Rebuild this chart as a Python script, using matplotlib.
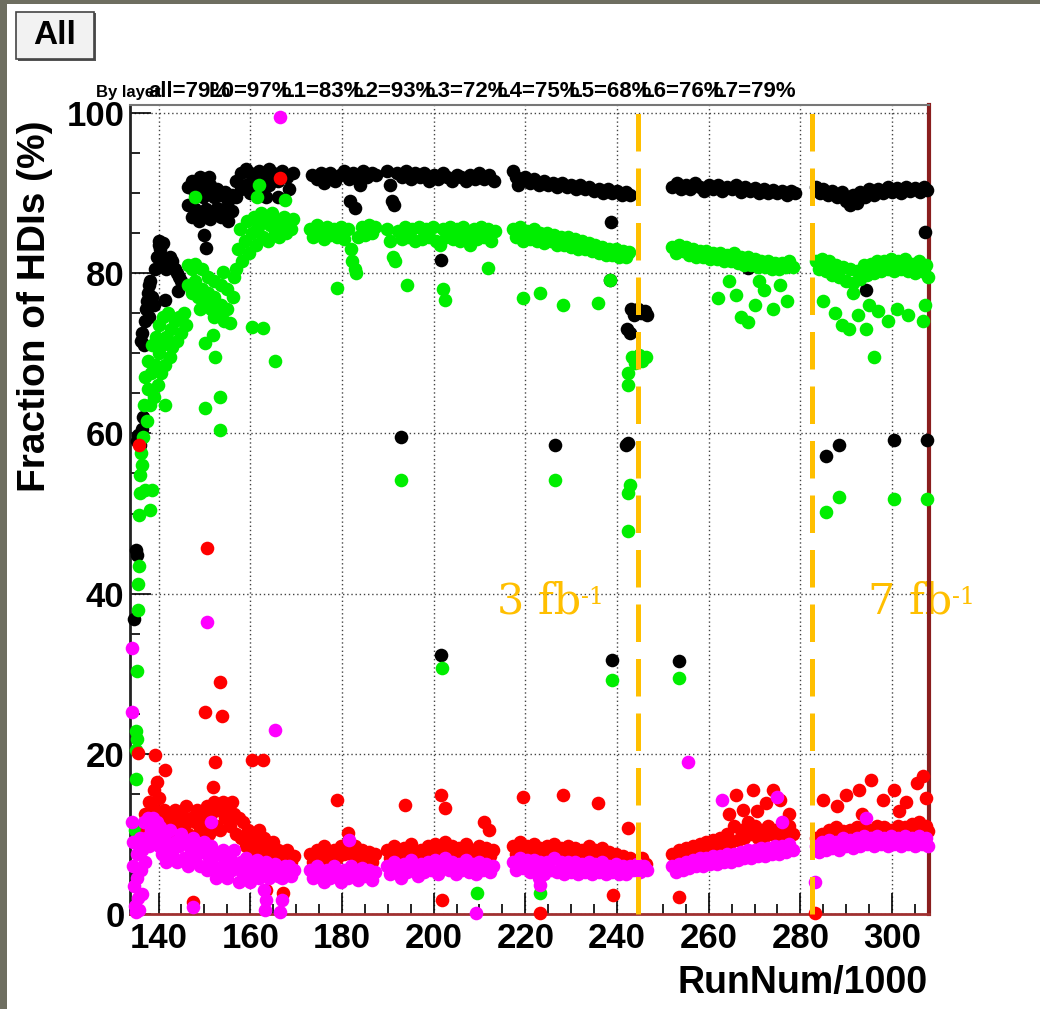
import numpy as np
import matplotlib
matplotlib.use("Agg")
import matplotlib.pyplot as plt
from matplotlib.patches import Rectangle

plt.rcParams['font.family'] = ['Liberation Sans', 'DejaVu Sans']

# ---- data: (RunNum/1000, fraction of HDIs in %) ----
black_pts = [
    (134.6, 36.8), (135.0, 45.5), (135.2, 44.8), (135.3, 59.0), (135.6, 59.8), (136.0, 58.5),
    (136.3, 60.5), (136.6, 62.0), (136.2, 71.5), (136.5, 72.5), (136.8, 71.0), (137.0, 74.0),
    (137.3, 75.5), (137.6, 77.5), (137.9, 78.5), (138.2, 79.0), (137.5, 76.5), (138.5, 77.0),
    (138.0, 74.5), (139.0, 76.0), (139.2, 80.5), (139.6, 82.0), (140.0, 83.5), (140.4, 83.0),
    (140.8, 82.0), (141.2, 81.5), (141.6, 80.5), (142.0, 81.0), (142.5, 82.0), (143.0, 81.5),
    (143.5, 80.5), (144.0, 80.0), (144.5, 79.5), (145.0, 79.0), (144.2, 77.8), (141.5, 76.6),
    (140.0, 84.0), (141.0, 83.8),
    (146.5, 90.8), (146.5, 88.5), (147.2, 91.5), (147.2, 87.0), (148.0, 90.0), (148.0, 88.0),
    (148.8, 91.0), (148.8, 86.5), (149.6, 89.5), (149.6, 87.5), (150.4, 90.5), (150.4, 88.0),
    (151.2, 91.0), (151.2, 86.8), (152.0, 89.5), (152.0, 87.5), (152.8, 90.5), (152.8, 88.2),
    (153.6, 89.8), (153.6, 87.0), (154.4, 90.2), (154.4, 88.0), (155.2, 89.0), (155.2, 86.5),
    (156.0, 89.8), (156.0, 87.8), (150.0, 84.8), (150.3, 83.2), (151.0, 92.0), (149.0, 92.0),
    (157.0, 91.5), (157.0, 89.5), (158.0, 92.5), (158.0, 90.5), (159.0, 93.0), (159.0, 91.0),
    (160.0, 92.5), (160.0, 90.0), (161.0, 92.0), (162.0, 92.8), (162.0, 90.5), (163.0, 92.0),
    (164.0, 93.0), (164.0, 91.0), (165.0, 92.5), (166.0, 91.5), (166.0, 89.5), (167.0, 92.8),
    (168.0, 92.0), (168.5, 90.5), (169.3, 92.5), (163.5, 89.5),
    (173.5, 92.3), (174.5, 91.8), (175.5, 92.5), (176.5, 92.0), (177.5, 92.5), (178.5, 91.5),
    (179.5, 92.3), (180.5, 92.8), (181.5, 91.8), (182.5, 92.5), (183.5, 92.0), (184.5, 92.8),
    (185.5, 92.0), (186.5, 92.5), (187.5, 92.2), (181.8, 89.0), (182.8, 88.2), (176.0, 91.2),
    (184.0, 91.0),
    (189.8, 92.8), (190.5, 91.0), (191.0, 89.0), (191.3, 88.5), (192.0, 92.5), (193.0, 92.0),
    (194.0, 92.8), (195.0, 91.8), (196.0, 92.5), (197.0, 92.0), (198.0, 92.5), (199.0, 91.5),
    (200.0, 92.3), (201.0, 91.8), (202.0, 92.5), (203.0, 92.0), (204.0, 91.5), (205.0, 92.3),
    (206.0, 92.0), (207.0, 91.5), (208.0, 92.2), (209.0, 91.8), (210.0, 92.5), (211.0, 91.8),
    (212.0, 92.2), (213.2, 91.5), (192.8, 59.6), (201.6, 81.7), (201.6, 32.3),
    (217.3, 92.8), (218.0, 92.0), (219.0, 91.5), (220.0, 92.0), (221.0, 91.3), (222.0, 91.8),
    (223.0, 91.0), (224.0, 91.5), (225.0, 91.0), (226.0, 91.3), (227.0, 90.8), (228.0, 91.2),
    (229.0, 90.8), (230.0, 91.0), (231.0, 90.5), (232.0, 91.0), (233.0, 90.5), (234.0, 90.8),
    (235.0, 90.3), (236.0, 90.5), (237.0, 90.0), (238.0, 90.5), (239.0, 90.0), (240.0, 90.3),
    (241.0, 89.8), (242.0, 90.2), (242.8, 89.8), (218.5, 91.0), (226.5, 58.5), (239.0, 31.7),
    (238.5, 79.1), (238.8, 86.4), (242.2, 73.0), (242.5, 58.8), (242.0, 58.6),
    (243.0, 75.5), (243.8, 74.8), (244.5, 75.5), (245.3, 75.0), (246.0, 75.3), (246.5, 74.8),
    (242.8, 72.5),
    (252.0, 90.8), (253.0, 91.2), (254.0, 90.5), (255.0, 91.0), (256.0, 90.5), (257.0, 91.2),
    (258.0, 90.8), (259.0, 90.3), (260.0, 91.0), (261.0, 90.5), (262.0, 91.0), (263.0, 90.3),
    (264.0, 90.8), (265.0, 90.5), (266.0, 91.0), (267.0, 90.2), (268.0, 90.8), (269.0, 90.3),
    (270.0, 90.6), (271.0, 90.0), (272.0, 90.5), (273.0, 90.0), (274.0, 90.4), (275.0, 90.0),
    (276.0, 90.3), (277.0, 89.8), (278.0, 90.3), (278.8, 90.0), (253.5, 31.6), (268.5, 80.6),
    (283.5, 90.8), (284.2, 90.0), (285.0, 90.5), (286.0, 89.8), (287.0, 90.3), (288.0, 89.5),
    (289.0, 90.2), (290.0, 89.0), (290.8, 88.5), (291.5, 89.8), (292.3, 88.8), (293.0, 90.2),
    (294.0, 89.5), (295.0, 90.5), (296.0, 89.8), (297.0, 90.5), (298.0, 90.0), (299.0, 90.8),
    (300.0, 90.2), (301.0, 90.6), (302.0, 90.0), (303.0, 90.8), (304.0, 90.3), (305.0, 90.6),
    (306.0, 90.2), (307.0, 90.8), (307.6, 90.4), (285.6, 57.2), (288.5, 58.6), (300.4, 59.2),
    (307.6, 59.2), (294.3, 77.9), (307.2, 85.1),
]

green_pts = [
    (134.8, 10.5), (135.0, 16.8), (135.0, 20.5), (135.2, 21.8), (135.0, 22.8), (135.3, 30.3),
    (135.5, 38.0), (135.5, 41.2), (135.7, 43.5), (135.7, 49.8), (136.0, 52.5), (136.0, 54.8),
    (136.2, 57.5), (136.5, 56.0),
    (136.6, 59.5), (136.8, 63.5), (137.0, 67.0), (137.4, 61.5), (137.6, 65.5), (137.8, 69.0),
    (138.2, 63.5), (138.4, 67.5), (138.6, 71.0), (139.0, 64.5), (139.2, 68.5), (139.4, 72.0),
    (139.8, 66.0), (140.0, 70.0), (140.2, 73.5), (140.6, 67.5), (140.8, 71.0), (141.0, 74.5),
    (141.5, 68.5), (141.7, 72.0), (142.0, 75.0), (142.5, 69.5), (142.7, 73.0), (143.0, 70.8),
    (143.5, 74.0), (144.0, 71.5), (144.5, 74.5), (145.0, 72.5), (145.5, 75.0), (146.0, 73.5),
    (137.0, 52.9), (138.5, 52.9), (138.2, 50.4), (141.4, 63.5), (150.1, 63.2), (153.4, 60.4),
    (153.4, 64.5), (150.1, 71.3), (151.9, 72.3), (152.3, 69.5),
    (146.5, 81.0), (146.5, 78.5), (147.3, 80.5), (147.3, 77.5), (148.0, 81.2), (148.0, 79.0),
    (148.7, 77.0), (149.4, 80.5), (149.4, 78.0), (150.1, 76.0), (150.8, 79.5), (150.8, 77.5),
    (151.5, 75.5), (152.2, 79.0), (152.2, 77.0), (152.9, 75.0), (153.6, 78.5), (153.6, 76.0),
    (154.3, 74.0), (155.0, 78.0), (155.0, 75.5), (155.7, 73.8), (156.2, 77.0), (156.5, 79.5),
    (149.0, 75.5), (152.0, 74.5), (154.0, 80.2),
    (156.8, 80.5), (157.3, 83.0), (157.8, 85.5), (158.3, 81.5), (158.8, 84.0), (159.3, 86.5),
    (159.8, 82.5), (160.3, 85.0), (160.8, 87.0), (161.3, 83.5), (161.8, 85.8), (162.3, 87.5),
    (162.8, 84.5), (163.3, 86.5), (163.8, 84.0), (164.3, 86.0), (164.8, 87.5), (165.3, 85.0),
    (165.8, 86.5), (166.3, 84.5), (166.8, 86.0), (167.3, 87.0), (167.8, 85.0), (168.3, 86.5),
    (168.8, 85.5), (169.3, 86.8), (161.5, 89.5), (162.0, 91.0), (147.9, 89.5), (167.6, 89.1),
    (160.4, 73.3), (162.8, 73.2), (165.4, 69.0),
    (173.0, 85.5), (173.8, 84.5), (174.5, 86.0), (175.3, 85.0), (176.0, 84.3), (176.8, 85.8),
    (177.5, 84.8), (178.3, 85.5), (179.0, 84.5), (179.8, 85.8), (180.5, 84.3), (181.3, 85.5),
    (182.0, 83.0), (182.3, 81.5), (182.8, 80.5), (183.5, 84.5), (184.3, 85.8), (185.0, 84.8),
    (185.8, 86.0), (186.5, 85.0), (187.3, 85.8), (178.9, 78.2), (183.0, 80.0),
    (189.8, 85.5), (190.5, 84.0), (191.2, 82.0), (191.5, 81.5), (192.2, 85.3), (193.0, 84.3),
    (193.8, 85.8), (194.5, 84.5), (195.3, 85.5), (196.0, 84.0), (196.8, 85.8), (197.5, 84.3),
    (198.3, 85.5), (199.0, 84.5), (199.8, 85.8), (200.5, 84.0), (201.3, 83.5), (202.0, 85.5),
    (202.8, 84.5), (203.5, 85.8), (204.3, 84.3), (205.0, 85.5), (205.8, 84.0), (206.5, 85.8),
    (207.3, 84.8), (208.0, 83.5), (208.8, 85.5), (209.5, 84.3), (210.3, 85.8), (211.0, 84.5),
    (211.8, 85.5), (212.5, 84.0), (213.3, 85.3), (194.2, 78.5), (202.5, 76.7), (202.0, 78.0),
    (211.8, 80.6), (192.8, 54.2), (201.8, 30.7), (209.4, 2.6),
    (217.3, 85.5), (218.0, 84.5), (218.8, 85.8), (219.5, 84.0), (220.3, 85.3), (221.0, 84.3),
    (221.8, 85.5), (222.5, 84.0), (223.3, 85.0), (224.0, 83.8), (224.8, 85.0), (225.5, 84.0),
    (226.3, 84.8), (227.0, 83.5), (227.8, 84.5), (228.5, 83.5), (229.3, 84.5), (230.0, 83.3),
    (230.8, 84.3), (231.5, 83.0), (232.3, 84.0), (233.0, 83.0), (233.8, 83.8), (234.5, 82.8),
    (235.3, 83.5), (236.0, 82.5), (236.8, 83.3), (237.5, 82.3), (238.3, 83.0), (239.0, 82.3),
    (239.8, 83.0), (240.5, 82.0), (241.3, 82.8), (242.0, 82.0), (242.7, 82.7), (219.5, 76.9),
    (223.2, 77.5), (228.2, 76.0), (235.9, 76.3), (238.5, 79.1), (226.5, 54.2), (239.0, 29.2),
    (223.2, 2.6), (242.3, 47.8), (242.5, 52.5), (242.8, 53.5), (242.3, 66.0), (242.5, 67.5),
    (243.2, 69.5), (244.0, 68.8), (244.8, 69.8), (245.5, 69.0), (246.3, 69.5),
    (252.0, 83.3), (252.8, 82.5), (253.5, 83.5), (254.3, 82.8), (255.0, 83.3), (255.8, 82.3),
    (256.5, 83.0), (257.3, 82.0), (258.0, 82.8), (258.8, 82.0), (259.5, 82.8), (260.3, 81.8),
    (261.0, 82.5), (261.8, 81.8), (262.5, 82.5), (263.3, 81.5), (264.0, 82.3), (264.8, 81.5),
    (265.5, 82.5), (266.3, 81.3), (267.0, 82.0), (267.8, 81.0), (268.5, 82.0), (269.3, 81.0),
    (270.0, 81.8), (270.8, 80.8), (271.5, 81.5), (272.3, 80.8), (273.0, 81.5), (273.8, 80.5),
    (274.5, 81.3), (275.3, 80.5), (276.0, 81.3), (276.8, 80.8), (277.5, 81.5), (278.3, 80.8),
    (262.0, 76.9), (266.0, 77.3), (267.0, 74.5), (268.5, 73.9), (270.0, 76.0), (272.0, 77.9),
    (274.0, 75.5), (275.5, 78.5), (277.0, 76.5), (253.5, 29.5), (264.5, 79.0), (271.0, 79.0),
    (283.3, 81.5), (284.0, 80.5), (284.8, 81.8), (285.5, 80.3), (286.3, 81.5), (287.0, 79.8),
    (287.8, 81.0), (288.5, 79.5), (289.3, 80.8), (290.0, 79.0), (290.8, 80.5), (291.5, 78.8),
    (292.3, 80.3), (293.0, 79.3), (293.8, 81.0), (294.5, 79.8), (295.3, 81.2), (296.0, 80.0),
    (296.8, 81.5), (297.5, 80.3), (298.3, 81.5), (299.0, 80.5), (299.8, 81.8), (300.5, 80.3),
    (301.3, 81.5), (302.0, 80.5), (302.8, 81.8), (303.5, 80.3), (304.3, 81.2), (305.0, 80.0),
    (305.8, 81.5), (306.5, 80.3), (307.3, 81.0), (307.8, 79.5), (285.0, 76.5), (287.5, 75.0),
    (289.0, 73.5), (290.5, 73.0), (292.5, 74.8), (294.3, 73.0), (295.0, 76.0), (297.0, 75.3),
    (299.0, 74.0), (301.0, 75.5), (303.5, 74.8), (306.8, 74.0), (307.2, 76.0), (291.5, 77.5),
    (285.6, 50.2), (288.4, 52.0), (300.4, 51.8), (307.6, 51.8), (296.0, 69.5),
]

red_pts = [
    (135.8, 58.6),
    (136.5, 9.0), (137.0, 12.5), (137.5, 10.5), (138.0, 14.0), (138.5, 11.5), (139.0, 15.5),
    (139.3, 13.0), (139.6, 16.5), (140.0, 14.5), (140.4, 12.0), (140.8, 10.0), (141.2, 13.0),
    (141.6, 11.0), (142.0, 9.0), (142.5, 12.0), (143.0, 10.5), (143.5, 13.0), (144.0, 11.5),
    (144.5, 9.5), (145.0, 12.5), (145.5, 11.0), (146.0, 13.5), (146.5, 10.0), (147.0, 12.0),
    (147.5, 9.5), (148.0, 11.5), (148.5, 13.0), (149.0, 10.5), (149.5, 12.5), (150.0, 11.0),
    (150.5, 13.5), (151.0, 10.0), (151.5, 12.5), (152.0, 14.0), (152.5, 11.0), (153.0, 13.0),
    (153.5, 10.5), (154.0, 14.0), (154.5, 12.0), (155.0, 13.5), (155.5, 11.0), (156.0, 14.0),
    (156.5, 12.5), (157.0, 10.0), (157.5, 12.0), (158.0, 9.5), (158.5, 11.5), (159.0, 8.5),
    (159.5, 10.5), (160.0, 8.0), (160.5, 9.5), (161.0, 7.5), (161.5, 9.0), (162.0, 10.5),
    (162.5, 8.0), (163.0, 9.5), (163.5, 7.0), (164.0, 8.5), (164.5, 7.5), (165.0, 9.0),
    (165.5, 7.0), (166.0, 8.0), (166.5, 6.5), (167.0, 7.5), (167.5, 6.8), (168.0, 8.0),
    (168.5, 7.0), (169.0, 6.5), (169.5, 7.3),
    (139.3, 19.9), (135.5, 20.1), (141.4, 18.0), (150.1, 25.2), (153.8, 24.7), (152.3, 19.0),
    (151.9, 15.9), (160.4, 19.2), (162.8, 19.2), (150.6, 45.7), (153.4, 29.0), (166.5, 91.9),
    (147.5, 1.5), (167.2, 2.6), (163.5, 3.0),
    (173.0, 7.5), (173.8, 6.5), (174.5, 8.0), (175.3, 7.0), (176.0, 8.5), (176.8, 7.3),
    (177.5, 6.5), (178.3, 8.0), (179.0, 7.0), (179.8, 8.5), (180.5, 7.5), (181.3, 9.0),
    (182.0, 7.5), (182.8, 8.5), (183.5, 7.0), (184.3, 8.0), (185.0, 6.8), (185.8, 7.8),
    (186.5, 6.5), (187.3, 7.5), (178.9, 14.2), (181.3, 10.1),
    (189.8, 8.0), (190.5, 7.0), (191.3, 8.5), (192.0, 7.5), (192.8, 6.5), (193.5, 8.3),
    (194.3, 7.3), (195.0, 8.8), (195.8, 7.5), (196.5, 6.8), (197.3, 8.0), (198.0, 7.0),
    (198.8, 8.5), (199.5, 7.5), (200.3, 8.8), (201.0, 7.3), (201.8, 8.0), (202.5, 9.0),
    (203.3, 7.5), (204.0, 8.5), (204.8, 7.0), (205.5, 8.3), (206.3, 7.5), (207.0, 8.8),
    (207.8, 7.3), (208.5, 8.0), (209.3, 7.0), (210.0, 8.5), (210.8, 7.5), (211.5, 8.3),
    (212.3, 7.3), (213.0, 8.0), (193.8, 13.6), (201.6, 14.9), (202.5, 13.2), (211.0, 11.5),
    (212.0, 10.5), (201.8, 1.8),
    (217.3, 8.5), (218.0, 7.5), (218.8, 9.0), (219.5, 7.8), (220.3, 8.5), (221.0, 7.3),
    (221.8, 8.8), (222.5, 7.5), (223.3, 8.3), (224.0, 7.0), (224.8, 8.5), (225.5, 7.5),
    (226.3, 8.8), (227.0, 7.3), (227.8, 8.3), (228.5, 7.0), (229.3, 8.5), (230.0, 7.3),
    (230.8, 8.3), (231.5, 7.0), (232.3, 8.0), (233.0, 7.3), (233.8, 8.5), (234.5, 7.0),
    (235.3, 8.0), (236.0, 7.0), (236.8, 8.3), (237.5, 7.0), (238.3, 7.8), (239.0, 6.8),
    (239.8, 7.5), (240.5, 6.5), (241.3, 7.3), (242.0, 6.5), (242.8, 7.0), (219.5, 14.6),
    (228.2, 14.9), (235.9, 13.9), (223.2, 0.1), (239.1, 2.4), (242.5, 10.7), (241.5, 5.5),
    (244.0, 6.5), (245.5, 7.0), (246.3, 6.3),
    (252.0, 7.5), (252.8, 6.8), (253.5, 8.0), (254.3, 7.0), (255.0, 8.3), (255.8, 7.3),
    (256.5, 8.5), (257.3, 7.5), (258.0, 8.8), (258.8, 7.8), (259.5, 9.0), (260.3, 8.0),
    (261.0, 9.3), (261.8, 8.3), (262.5, 9.5), (263.3, 8.5), (264.0, 10.0), (264.8, 9.0),
    (265.5, 11.0), (266.3, 9.3), (267.0, 10.5), (267.8, 9.5), (268.5, 11.5), (269.3, 10.0),
    (270.0, 11.0), (270.8, 9.5), (271.5, 10.5), (272.3, 9.8), (273.0, 11.0), (273.8, 10.0),
    (274.5, 10.5), (275.3, 9.8), (276.0, 10.8), (276.8, 10.0), (277.5, 11.0), (278.3, 10.0),
    (264.5, 12.5), (266.0, 14.9), (267.5, 13.0), (269.6, 15.5), (270.5, 12.8), (272.4, 13.9),
    (274.0, 15.5), (275.5, 14.2), (277.5, 12.5), (253.5, 2.1),
    (283.3, 9.5), (284.0, 8.5), (284.8, 10.0), (285.5, 9.0), (286.3, 10.5), (287.0, 9.3),
    (287.8, 10.8), (288.5, 9.5), (289.3, 10.3), (290.0, 9.0), (290.8, 10.5), (291.5, 9.5),
    (292.3, 10.8), (293.0, 9.8), (293.8, 11.0), (294.5, 9.5), (295.3, 10.5), (296.0, 9.8),
    (296.8, 11.0), (297.5, 10.0), (298.3, 10.8), (299.0, 9.5), (299.8, 10.5), (300.5, 9.8),
    (301.3, 11.0), (302.0, 10.0), (302.8, 10.8), (303.5, 9.8), (304.3, 11.2), (305.0, 10.3),
    (305.8, 11.5), (306.5, 10.0), (307.3, 11.0), (307.8, 10.3), (285.0, 14.2), (288.0, 13.5),
    (290.0, 14.8), (292.8, 15.5), (295.5, 16.7), (298.0, 14.2), (300.5, 15.5), (303.0, 14.0),
    (305.5, 16.3), (306.8, 17.2), (307.5, 14.5), (283.2, 0.1), (293.5, 12.5), (301.5, 12.8),
]

magenta_pts = [
    (134.2, 33.2), (134.2, 25.2), (134.3, 11.5), (134.5, 9.0), (134.5, 6.0), (134.7, 3.5),
    (134.8, 1.0), (135.0, 0.3), (135.2, 7.5), (135.3, 4.5), (135.5, 2.0), (135.7, 0.5),
    (135.9, 9.5), (136.1, 5.5), (136.3, 2.5), (136.5, 8.0), (136.8, 11.5), (137.0, 6.5),
    (137.2, 9.5), (137.6, 12.0), (138.0, 8.5), (138.4, 10.5),
    (138.8, 12.0), (139.2, 9.5), (139.6, 11.5), (140.0, 8.5), (140.4, 10.8), (140.8, 7.5),
    (141.2, 9.5), (141.6, 6.5), (142.0, 8.8), (142.5, 10.5), (143.0, 7.5), (143.5, 9.0),
    (144.0, 6.5), (144.5, 8.5), (145.0, 10.0), (145.5, 7.0), (146.0, 9.0), (146.5, 6.0),
    (147.0, 8.0), (147.5, 9.5), (148.0, 7.0), (148.5, 8.5), (149.0, 6.0), (149.5, 7.8),
    (150.0, 9.0), (150.5, 5.5), (151.0, 7.0), (151.5, 8.5), (152.0, 6.0), (152.5, 4.5),
    (153.0, 7.5), (153.5, 5.5), (154.0, 8.0), (154.5, 6.5), (155.0, 4.5), (155.5, 7.0),
    (156.0, 5.5), (156.5, 8.0), (157.0, 6.0), (157.5, 4.0), (158.0, 6.5), (158.5, 5.0),
    (159.0, 7.0), (159.5, 5.5), (160.0, 4.0), (160.5, 6.0), (161.0, 5.0), (161.5, 6.8),
    (162.0, 4.5), (162.5, 6.0), (163.0, 5.0), (163.5, 6.5), (164.0, 4.5), (164.5, 5.8),
    (165.0, 5.0), (165.5, 6.3), (166.0, 4.8), (166.5, 5.8), (167.0, 4.5), (167.5, 6.0),
    (168.0, 5.0), (168.5, 6.0), (169.0, 4.8), (169.5, 5.5), (151.5, 11.5), (166.5, 99.5),
    (150.6, 36.5), (165.4, 23.0), (147.5, 0.9), (163.2, 0.5), (163.4, 1.8), (166.5, 0.3),
    (167.0, 1.7), (163.0, 3.0),
    (173.0, 5.5), (173.8, 4.5), (174.5, 6.0), (175.3, 5.0), (176.0, 4.0), (176.8, 5.5),
    (177.5, 4.5), (178.3, 6.0), (179.0, 5.0), (179.8, 4.0), (180.5, 5.5), (181.3, 4.5),
    (182.0, 6.0), (182.8, 5.0), (183.5, 4.3), (184.3, 5.8), (185.0, 4.8), (185.8, 5.5),
    (186.5, 4.3), (187.3, 5.3), (181.5, 9.2),
    (189.8, 6.0), (190.5, 5.0), (191.3, 6.5), (192.0, 5.5), (192.8, 4.5), (193.5, 6.3),
    (194.3, 5.3), (195.0, 6.8), (195.8, 5.5), (196.5, 4.8), (197.3, 6.3), (198.0, 5.3),
    (198.8, 6.5), (199.5, 5.5), (200.3, 6.8), (201.0, 5.0), (201.8, 6.3), (202.5, 7.0),
    (203.3, 5.5), (204.0, 6.5), (204.8, 5.0), (205.5, 6.3), (206.3, 5.5), (207.0, 6.8),
    (207.8, 5.3), (208.5, 6.3), (209.3, 5.0), (210.0, 6.5), (210.8, 5.5), (211.5, 6.3),
    (212.3, 5.3), (213.0, 6.0), (209.3, 0.1),
    (217.3, 6.5), (218.0, 5.5), (218.8, 7.0), (219.5, 5.8), (220.3, 6.8), (221.0, 5.3),
    (221.8, 6.8), (222.5, 5.5), (223.3, 6.5), (224.0, 5.0), (224.8, 6.5), (225.5, 5.5),
    (226.3, 7.0), (227.0, 5.3), (227.8, 6.5), (228.5, 5.0), (229.3, 6.5), (230.0, 5.3),
    (230.8, 6.5), (231.5, 5.0), (232.3, 6.3), (233.0, 5.3), (233.8, 6.5), (234.5, 5.0),
    (235.3, 6.3), (236.0, 5.3), (236.8, 6.5), (237.5, 5.0), (238.3, 6.0), (239.0, 5.3),
    (239.8, 6.3), (240.5, 5.0), (241.3, 6.0), (242.0, 5.0), (242.8, 6.0), (243.5, 5.5),
    (244.3, 6.3), (245.0, 5.3), (245.8, 6.0), (246.5, 5.5), (223.2, 3.6), (223.0, 4.5),
    (252.0, 6.0), (252.8, 5.3), (253.5, 6.3), (254.3, 5.5), (255.0, 6.5), (255.8, 5.8),
    (256.5, 6.8), (257.3, 6.0), (258.0, 7.0), (258.8, 6.0), (259.5, 7.0), (260.3, 6.3),
    (261.0, 7.3), (261.8, 6.3), (262.5, 7.3), (263.3, 6.5), (264.0, 7.5), (264.8, 6.5),
    (265.5, 7.5), (266.3, 6.8), (267.0, 7.8), (267.8, 7.0), (268.5, 8.0), (269.3, 7.0),
    (270.0, 8.0), (270.8, 7.3), (271.5, 8.3), (272.3, 7.3), (273.0, 8.3), (273.8, 7.5),
    (274.5, 8.5), (275.3, 7.5), (276.0, 8.5), (276.8, 7.8), (277.5, 8.8), (278.3, 8.0),
    (255.5, 19.0), (263.0, 14.2), (275.0, 14.6), (276.0, 11.5),
    (283.2, 4.0), (283.3, 8.5), (284.0, 7.8), (284.8, 9.0), (285.5, 8.0), (286.3, 9.3),
    (287.0, 8.3), (287.8, 9.0), (288.5, 8.0), (289.3, 9.5), (290.0, 8.5), (290.8, 9.3),
    (291.5, 8.3), (292.3, 9.5), (293.0, 8.5), (293.8, 9.8), (294.5, 8.8), (295.3, 9.5),
    (296.0, 8.5), (296.8, 9.8), (297.5, 8.8), (298.3, 9.5), (299.0, 8.5), (299.8, 9.8),
    (300.5, 8.8), (301.3, 9.5), (302.0, 8.5), (302.8, 9.8), (303.5, 8.8), (304.3, 9.5),
    (305.0, 8.5), (305.8, 9.8), (306.5, 8.8), (307.3, 9.5), (307.8, 8.5), (294.3, 12.0),
]

layer_labels = ["all=79%", "L0=97%", "L1=83%", "L2=93%", "L3=72%",
                "L4=75%", "L5=68%", "L6=76%", "L7=79%"]
lumi_runs = [244.6, 282.5]
lumi_text = ["3 fb", "7 fb"]
lumi_text_x = [213.8, 294.7]

W, H = 1040, 1009
fig = plt.figure(figsize=(W / 100, H / 100), dpi=100)
fig.patch.set_facecolor('white')

def fx(px):
    return px / W

def fy(py):
    return 1 - py / H

# dark frame strips of the canvas window
fig.patches.append(Rectangle((0, 0), fx(7), 1, transform=fig.transFigure,
                             facecolor='#6e6e60', edgecolor='none'))
fig.patches.append(Rectangle((0, fy(4)), 1, 4 / H, transform=fig.transFigure,
                             facecolor='#6e6e60', edgecolor='none'))

# "All" button
fig.patches.append(Rectangle((fx(18), fy(61)), fx(78), 48 / H, transform=fig.transFigure,
                             facecolor='#555555', edgecolor='none'))
fig.patches.append(Rectangle((fx(16), fy(59)), fx(78), 47 / H, transform=fig.transFigure,
                             facecolor='#f2f2f2', edgecolor='#444444', linewidth=1.2))
fig.text(fx(55), fy(36), "All", fontsize=24, fontweight='bold', ha='center', va='center')

ax = fig.add_axes([fx(130), fy(914), fx(929 - 130), (914 - 105) / H])
ax.set_xlim(133.78, 308.05)
ax.set_ylim(0, 101.0)

for pts, col in [(black_pts, '#000000'), (green_pts, '#00ee00'),
                 (red_pts, '#ff0000'), (magenta_pts, '#ff00ff')]:
    xs, ys = np.array(pts).T
    ax.scatter(xs, ys, s=96, color=col, linewidths=0, zorder=3, clip_on=False)

for xr in lumi_runs:
    ax.plot([xr, xr], [0, 101.6], color='#ffbf00', lw=3.6, dashes=(7.5, 3.4),
            zorder=4, clip_on=False)

for txt, xt in zip(lumi_text, lumi_text_x):
    t = ax.text(xt, 37.5, txt, color='#ffbf00', fontsize=31, family='DejaVu Serif',
                ha='left', va='baseline', zorder=1)
    ax.annotate("-1", xy=(1.0, 1.0), xycoords=t, xytext=(0, -4), textcoords='offset points',
                color='#ffbf00', fontsize=17, family='DejaVu Serif',
                ha='left', va='top', zorder=1)

ax.set_xticks(np.arange(140, 301, 20))
ax.set_yticks(np.arange(0, 101, 20))
ax.set_xticks(np.arange(135, 309, 5), minor=True)
ax.set_yticks(np.arange(0, 101, 5), minor=True)
ax.grid(True, which='major', linestyle=(0, (1, 2)), color='#444444', linewidth=1.0)
ax.set_axisbelow(True)
ax.tick_params(which='major', direction='in', length=15, width=1.2, top=False, right=False,
               labelsize=25, pad=6)
ax.tick_params(which='minor', direction='in', length=7, width=1.2, top=False, right=False)
ax.tick_params(axis='y', pad=4)
for lab in ax.get_xticklabels() + ax.get_yticklabels():
    lab.set_fontweight('bold')

ax.spines['left'].set_color('#222222')
ax.spines['left'].set_linewidth(2)
ax.spines['bottom'].set_color('#a03030')
ax.spines['bottom'].set_linewidth(2)
ax.spines['top'].set_color('#777777')
ax.spines['top'].set_linewidth(1.5)
ax.spines['right'].set_color('#8a1e1e')
ax.spines['right'].set_linewidth(3)

fig.text(fx(928), fy(983), "RunNum/1000", fontsize=27, fontweight='bold',
         ha='right', va='center')
fig.text(fx(35), fy(306), "Fraction of HDIs (%)", fontsize=28, fontweight='bold',
         rotation=90, ha='center', va='center')

# overlapping per-layer efficiencies on the title line
fig.text(fx(96), fy(97), "By layer", fontsize=12, fontweight='bold', va='baseline')
fig.text(fx(148), fy(97), layer_labels[0], fontsize=16, fontweight='bold', va='baseline')
for k, lab in enumerate(layer_labels[1:]):
    fig.text(fx(209 + 72 * k), fy(97), lab, fontsize=16, fontweight='bold', va='baseline')

fig.savefig("out.png", dpi=100)
